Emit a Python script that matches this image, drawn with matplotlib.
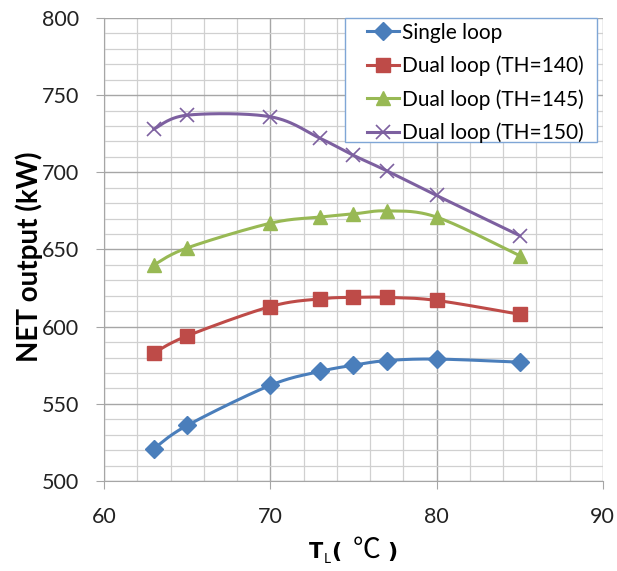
import numpy as np
import matplotlib
matplotlib.use("Agg")
import matplotlib.pyplot as plt
from matplotlib.ticker import MultipleLocator
from matplotlib.patches import Rectangle

plt.rcParams['font.family'] = ['Lato', 'DejaVu Sans']

t_low = [63, 65, 70, 73, 75, 77, 80, 85]
single_loop = [521, 536, 562, 571, 575, 578, 579, 577]
dual_140 = [583, 594, 613, 618, 619, 619, 617, 608]
dual_145 = [640, 651, 667, 671, 673, 675, 671, 646]
dual_150 = [728, 737, 736, 722, 711, 701, 685, 659]


def smooth(x, y, n=30):
    # excel-like smoothed line: bezier segments with catmull-rom handles
    p = np.column_stack([x, y]).astype(float)
    p = np.vstack([p[0], p, p[-1]])
    t = np.linspace(0, 1, n)[:, None]
    out = []
    for i in range(1, len(p) - 2):
        p0, p1, p2, p3 = p[i - 1], p[i], p[i + 1], p[i + 2]
        c1 = p1 + (p2 - p0) / 6
        c2 = p2 - (p3 - p1) / 6
        seg = ((1 - t) ** 3) * p1 + 3 * (1 - t) ** 2 * t * c1 \
            + 3 * (1 - t) * t ** 2 * c2 + t ** 3 * p2
        out.append(seg)
    out = np.vstack(out)
    return out[:, 0], out[:, 1]


fig = plt.figure(figsize=(6.17, 5.71), dpi=100)
ax = fig.add_axes([0.1686, 0.1576, 0.8084, 0.811])

series = [
    ("Single loop", single_loop, "#4A7EBB", "D", 9),
    ("Dual loop (TH=140)", dual_140, "#BE4B48", "s", 10.5),
    ("Dual loop (TH=145)", dual_145, "#98B954", "^", 10.5),
    ("Dual loop (TH=150)", dual_150, "#7D60A0", "x", 10),
]
for name, vals, col, mk, ms in series:
    sx, sy = smooth(t_low, vals)
    ax.plot(sx, sy, color=col, lw=2.2, zorder=3)
    ax.plot(t_low, vals, color=col, lw=0, marker=mk, ms=ms,
            mew=1.2 if mk == "x" else 1, zorder=4)
    ax.plot([], [], color=col, lw=2.2, marker=mk, ms=ms,
            mew=1.2 if mk == "x" else 1, label=name)

ax.set_xlim(60, 90)
ax.set_ylim(500, 800)
ax.xaxis.set_major_locator(MultipleLocator(10))
ax.xaxis.set_minor_locator(MultipleLocator(2))
ax.yaxis.set_major_locator(MultipleLocator(50))
ax.yaxis.set_minor_locator(MultipleLocator(10))
ax.grid(which="major", color="#A6A6A6", lw=1.0)
ax.grid(which="minor", color="#D0D0D0", lw=0.9)
ax.set_axisbelow(True)
for s in ("top", "right"):
    ax.spines[s].set_visible(False)
for s in ("left", "bottom"):
    ax.spines[s].set_color("#A6A6A6")
ax.tick_params(which="major", length=6, color="#A6A6A6", labelsize=15.5,
               labelcolor="#222222")
ax.tick_params(axis="y", pad=12)
ax.tick_params(axis="x", pad=13)
ax.tick_params(which="minor", length=0)

ax.set_ylabel("NET output (kW)", fontsize=20, fontweight="bold")
ax.yaxis.set_label_coords(-0.122, 0.484)

# x label: T with subscript L, then (℃)
bold = dict(family=["DejaVu Sans"], fontweight="bold", va="baseline")
fig.text(0.523, 0.0228, "T", fontsize=15, ha="right", **bold)
fig.text(0.5245, 0.0135, "L", fontsize=10, ha="left", va="baseline")
fig.text(0.537, 0.0228, "(", fontsize=16, ha="left", **bold)
fig.text(0.571, 0.0228, "℃", fontsize=20, family=["Noto Sans CJK SC", "DejaVu Sans"],
         ha="left", va="baseline")
fig.text(0.628, 0.0228, ")", fontsize=16, ha="left", **bold)

# legend frame drawn by hand, entries without frame
ax.add_patch(Rectangle((0.483, 0.732), 0.505, 0.268, transform=ax.transAxes,
                       facecolor="white", edgecolor="#7FA6D6", lw=1.0,
                       zorder=5, clip_on=False))
leg = ax.legend(loc="upper left", bbox_to_anchor=(0.527, 0.99), fontsize=15,
                frameon=False, handlelength=1.55, borderpad=0,
                labelspacing=0.62, handletextpad=0.15, borderaxespad=0)
leg.set_zorder(6)

fig.savefig("out.png", dpi=100)
